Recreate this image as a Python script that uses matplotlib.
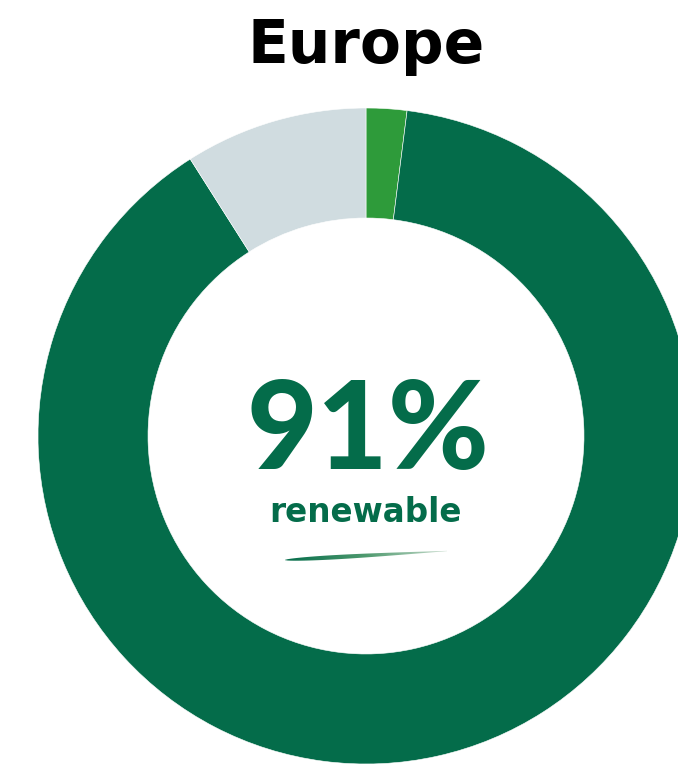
import matplotlib
matplotlib.use("Agg")
import matplotlib.pyplot as plt
import numpy as np
from matplotlib.patches import Polygon
from matplotlib.colors import LinearSegmentedColormap

# Data
region = "Europe"
segments = ["Other renewable", "Main renewable", "Non-renewable"]
shares = [2, 89, 9]
colors = ["#2e9b3a", "#046c4a", "#d0dce0"]
headline = "91%"
sublabel = "renewable"

W, H = 678, 764
fig = plt.figure(figsize=(W / 100, H / 100), dpi=100)
ax = fig.add_axes([0, 0, 1, 1])

cx, cy = 366, H - 436
R, ring = 328, 110
ax.pie(shares, colors=colors, startangle=90, counterclock=False,
       center=(cx, cy), radius=R, frame=True,
       wedgeprops=dict(width=ring, edgecolor="white", linewidth=0.4))
ax.set_xlim(0, W)
ax.set_ylim(0, H)
ax.set_aspect("equal")
ax.axis("off")

ax.text(cx, H - 46, region, ha="center", va="center", fontsize=43,
        fontweight="bold", family=["DejaVu Sans"], color="black")
ax.text(cx + 2, H - 433, headline, ha="center", va="center", fontsize=88,
        fontweight="black", family=["Lato", "DejaVu Sans"], color="#046c4a")
ax.text(cx, H - 512, sublabel, ha="center", va="center", fontsize=23.5,
        fontweight="bold", family=["DejaVu Sans"], color="#046c4a")

# decorative swoosh
xs = np.linspace(285, 447, 60)
t = (xs - 285) / 162
center_y = H - (560 - 9 * t)
thick = 4.0 * np.sin(np.pi * np.clip(t, 0, 1) ** 0.6) + 0.3
top = np.column_stack([xs, center_y + thick / 2])
bot = np.column_stack([xs[::-1], (center_y - thick / 2)[::-1]])
poly = Polygon(np.vstack([top, bot]), closed=True, facecolor="none", edgecolor="none")
ax.add_patch(poly)
cmap = LinearSegmentedColormap.from_list("sw", ["#046c4a", "#4f9a6f", "#c8dccd"])
grad = np.linspace(0, 1, 256).reshape(1, -1)
im = ax.imshow(grad, cmap=cmap, extent=[285, 447, H - 566, H - 548],
               aspect="auto", zorder=3)
im.set_clip_path(poly)
ax.set_xlim(0, W)
ax.set_ylim(0, H)

fig.savefig("out.png", dpi=100)
